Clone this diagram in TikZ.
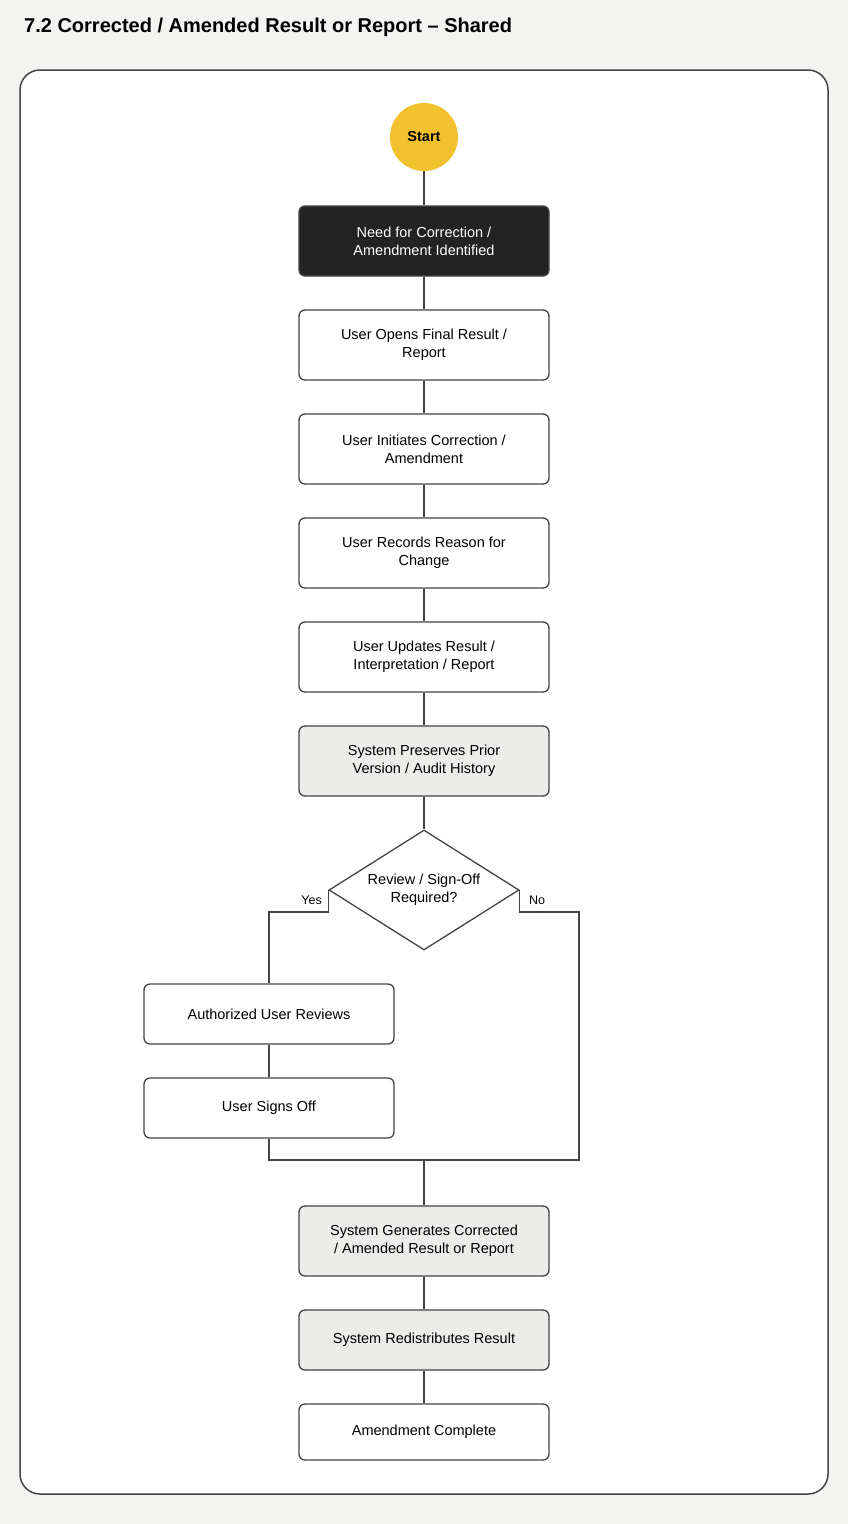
\documentclass[tikz,border=0pt]{standalone}
\usepackage{fontspec}
\usepackage{xcolor}
\usepackage{tikz}
\usetikzlibrary{shapes.geometric}
\setmainfont{Liberation Sans}

\definecolor{bg}{HTML}{F3F3F2}
\definecolor{edge}{HTML}{444444}
\definecolor{startcol}{HTML}{F2C12E}
\definecolor{darkbox}{HTML}{232323}
\definecolor{sysbox}{HTML}{ECECEB}

\tikzset{
    box/.style={draw=edge,line width=1.3pt,rounded corners=6pt,fill=white,
        minimum width=250pt,minimum height=70pt,align=center,
        font=\fontsize{14.5}{18}\selectfont},
    sysnode/.style={box,fill=sysbox},
    link/.style={draw=edge,line width=1.5pt}
}

\begin{document}
\begin{tikzpicture}[x=1pt,y=-1pt]
    \fill[bg] (0,0) rectangle (848,1524);
    \node[anchor=base west,inner sep=0pt,font=\fontsize{20}{24}\selectfont\bfseries] (title) at (24,32) {7.2 Corrected / Amended Result or Report -- Shared};
    \draw[edge,fill=white,line width=1.5pt,rounded corners=20pt] (20,70) rectangle (828,1494);

    \node[circle,fill=startcol,minimum size=68pt,inner sep=0pt,font=\fontsize{14.5}{18}\selectfont\bfseries] (0) at (424,137) {Start};
    \node[box,fill=darkbox,text=white] (1) at (424,241) {Need for Correction /\\Amendment Identified};
    \node[box] (2) at (424,345) {User Opens Final Result /\\Report};
    \node[box] (3) at (424,449) {User Initiates Correction /\\Amendment};
    \node[box] (4) at (424,553) {User Records Reason for\\Change};
    \node[box] (5) at (424,657) {User Updates Result /\\Interpretation / Report};
    \node[sysnode] (6) at (424,761) {System Preserves Prior\\Version / Audit History};
    \node[draw=edge,line width=1.3pt,diamond,aspect=1.58,inner sep=0pt,minimum width=190pt,minimum height=120pt,align=center,font=\fontsize{14.5}{18}\selectfont] (7) at (424,890) {Review / Sign-Off\\Required?};
    \node[box,minimum height=60pt] (8) at (269,1014) {Authorized User Reviews};
    \node[box,minimum height=60pt] (9) at (269,1108) {User Signs Off};
    \node[sysnode] (10) at (424,1241) {System Generates Corrected\\/ Amended Result or Report};
    \node[sysnode,minimum height=60pt] (11) at (424,1340) {System Redistributes Result};
    \node[box,minimum height=56pt] (12) at (424,1432) {Amendment Complete};
    \coordinate (j) at (424,1160);
    \coordinate (r) at (579,1160);

    \draw[link] (0) to (1);
    \draw[link] (1) to (2);
    \draw[link] (2) to (3);
    \draw[link] (3) to (4);
    \draw[link] (4) to (5);
    \draw[link] (5) to (6);
    \draw[link] (6) to (7);
    \draw[link] (7.west) -- ++(0,22) -| (8.north);
    \draw[link] (7.east) -- ++(0,22) -| (r) -- (j);
    \draw[link] (8) to (9);
    \draw[link] (9.south) |- (j);
    \draw[link] (j) to (10);
    \draw[link] (10) to (11);
    \draw[link] (11) to (12);

    \node[anchor=base east,inner sep=0pt,font=\fontsize{12.5}{15}\selectfont] (yes) at (322,904) {Yes};
    \node[anchor=base west,inner sep=0pt,font=\fontsize{12.5}{15}\selectfont] (no) at (529,904) {No};
\end{tikzpicture}
\end{document}
